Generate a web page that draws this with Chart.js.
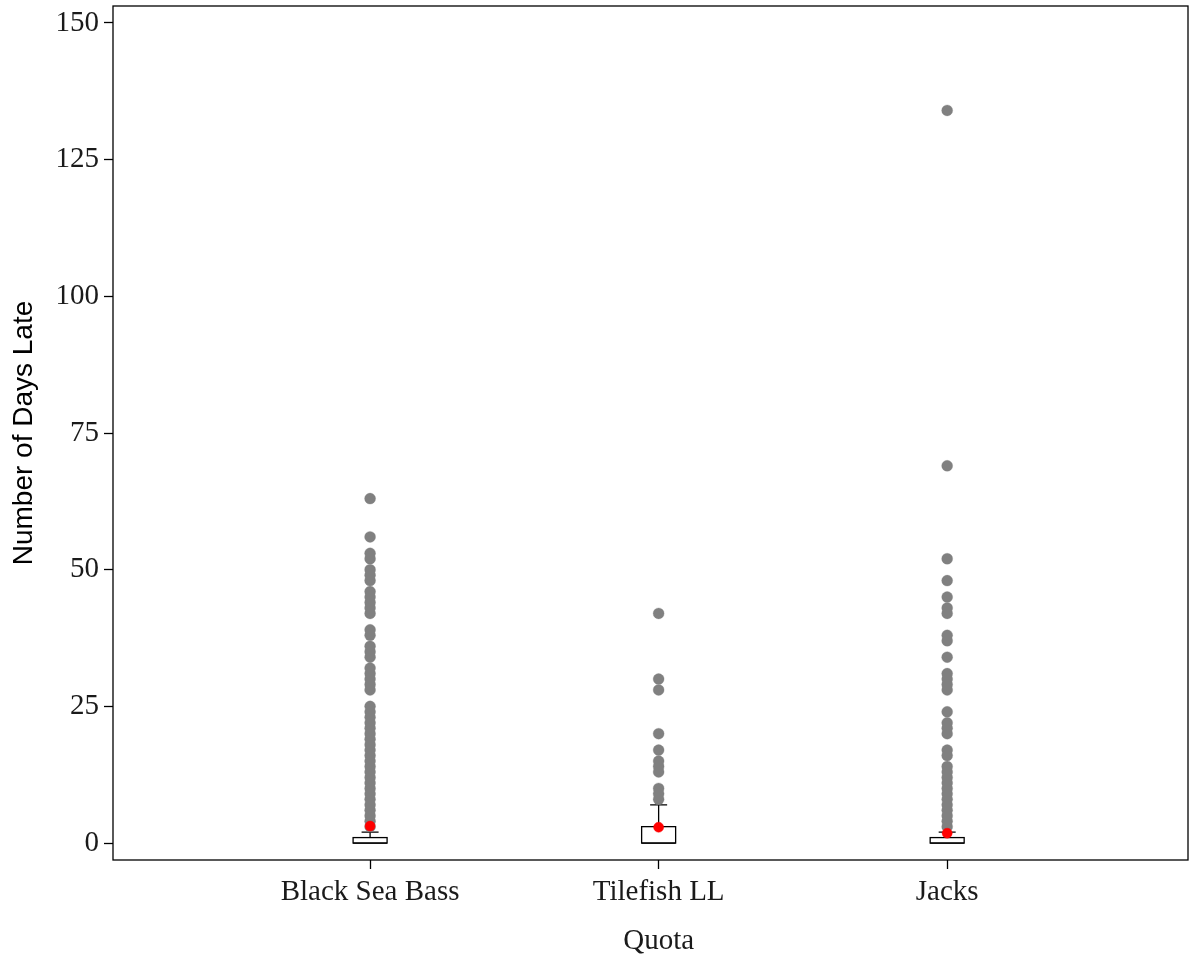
<!DOCTYPE html>
<html>
<head>
<meta charset="utf-8">
<script src="https://cdn.jsdelivr.net/npm/chart.js@4.4.1/dist/chart.umd.min.js"></script>
<style>
  html, body { margin: 0; padding: 0; background: #ffffff; }
  #wrap { width: 1189px; height: 959px; }
</style>
</head>
<body>
<div id="wrap"><canvas id="c" width="1189" height="959"></canvas></div>
<script>
// Quota categories (placed at x = 1, 2, 3)
const categories = ['Black Sea Bass', 'Tilefish LL', 'Jacks'];
const xTitle = 'Quota';
const yTitle = 'Number of Days Late';

// Box summary statistics per quota (days late)
const q1Values = [0, 0, 0];
const medianValues = [0, 0, 0];
const q3Values = [1, 3, 1];
const whiskerHigh = [2, 7, 2];
const meanValues = [3.1, 2.9, 1.8];

// Outlying observations per quota
const blackSeaBassOutliers = [63, 56, 53, 52, 50, 49, 48, 46, 45, 44, 43, 42, 39, 38, 36, 35, 34,
  32, 31, 30, 29, 28, 25, 24, 23, 22, 21, 20, 19, 18, 17, 16, 15, 14, 13, 12, 11, 10, 9, 8, 7, 6, 5, 4, 3];
const tilefishOutliers = [42, 30, 28, 20, 17, 15, 14, 13, 10, 9, 8];
const jacksOutliers = [134, 69, 52, 48, 45, 43, 42, 38, 37, 34, 31, 30, 29, 28, 24, 22, 21, 20, 17, 16,
  14, 13, 12, 11, 10, 9, 8, 7, 6, 5, 4, 3];

// Y axis ticks
const yTicks = [0, 25, 50, 75, 100, 125, 150];

const outlierSets = [blackSeaBassOutliers, tilefishOutliers, jacksOutliers];
const outlierPoints = [];
outlierSets.forEach((set, i) => set.forEach(v => outlierPoints.push({ x: i + 1, y: v })));
const meanPoints = meanValues.map((v, i) => ({ x: i + 1, y: v }));

const serif = "'Liberation Serif', 'DejaVu Serif', serif";
const sans = "'Liberation Sans', Arial, sans-serif";

// Boxes and whiskers drawn through the chart's scales
const boxPlugin = {
  id: 'boxes',
  beforeDatasetsDraw(chart) {
    const { ctx } = chart;
    const xs = chart.scales.x, ys = chart.scales.y;
    const halfW = 17;
    ctx.save();
    ctx.strokeStyle = '#000000';
    ctx.lineWidth = 1.3;
    categories.forEach((c, i) => {
      const cx = xs.getPixelForValue(i + 1);
      const yQ1 = ys.getPixelForValue(q1Values[i]);
      const yQ3 = ys.getPixelForValue(q3Values[i]);
      const yMed = ys.getPixelForValue(medianValues[i]);
      const yW = ys.getPixelForValue(whiskerHigh[i]);
      // whisker
      ctx.beginPath();
      ctx.moveTo(cx, yQ3);
      ctx.lineTo(cx, yW);
      ctx.moveTo(cx - halfW / 2, yW);
      ctx.lineTo(cx + halfW / 2, yW);
      ctx.stroke();
      // box
      ctx.fillStyle = '#ffffff';
      ctx.fillRect(cx - halfW, yQ3, halfW * 2, yQ1 - yQ3);
      ctx.strokeRect(cx - halfW, yQ3, halfW * 2, yQ1 - yQ3);
      // median
      ctx.beginPath();
      ctx.moveTo(cx - halfW, yMed);
      ctx.lineTo(cx + halfW, yMed);
      ctx.stroke();
    });
    ctx.restore();
  },
  afterDraw(chart) {
    const { ctx, chartArea } = chart;
    const xs = chart.scales.x;
    const right = chart.width - 1;
    ctx.save();
    // panel frame, running to the right edge of the canvas
    ctx.strokeStyle = '#000000';
    ctx.lineWidth = 1.3;
    ctx.strokeRect(chartArea.left, chartArea.top, right - chartArea.left, chartArea.bottom - chartArea.top);
    // x axis title, centred under the middle group
    ctx.fillStyle = '#1a1a1a';
    ctx.font = "29px " + serif;
    ctx.textAlign = 'center';
    ctx.textBaseline = 'middle';
    ctx.fillText(xTitle, xs.getPixelForValue(2), 941);
    ctx.restore();
  }
};

new Chart(document.getElementById('c'), {
  type: 'scatter',
  data: {
    datasets: [
      {
        label: 'Mean',
        data: meanPoints,
        pointRadius: 5,
        pointBackgroundColor: '#ff0000',
        pointBorderColor: '#ff0000',
        pointBorderWidth: 0.5,
        order: 0
      },
      {
        label: 'Outliers',
        data: outlierPoints,
        pointRadius: 5.5,
        pointBackgroundColor: '#808080',
        pointBorderColor: '#808080',
        pointBorderWidth: 0.3,
        order: 1
      }
    ]
  },
  options: {
    responsive: false,
    animation: false,
    devicePixelRatio: 1,
    layout: { padding: { top: 6, right: 0, left: 0, bottom: 0 } },
    plugins: {
      legend: { display: false },
      tooltip: { enabled: false }
    },
    scales: {
      x: {
        type: 'linear',
        min: 0.109,
        max: 3.818,
        afterBuildTicks(scale) {
          scale.ticks = categories.map((c, i) => ({ value: i + 1 }));
        },
        afterFit(scale) {
          scale.height = 99;
          scale.paddingLeft = 0;
          scale.paddingRight = 0;
        },
        grid: {
          drawOnChartArea: false,
          drawTicks: true,
          tickLength: 9,
          color: '#000000',
          tickWidth: 1.3
        },
        border: { display: false },
        ticks: {
          autoSkip: false,
          maxRotation: 0,
          padding: 6,
          color: '#1a1a1a',
          font: { family: serif, size: 29 },
          callback: (v) => categories[Math.round(v) - 1]
        },
        title: { display: false }
      },
      y: {
        min: -3.1,
        max: 153.1,
        afterBuildTicks(scale) {
          scale.ticks = yTicks.map(v => ({ value: v }));
        },
        afterFit(scale) {
          scale.width = 113;
          scale.paddingTop = 0;
          scale.paddingBottom = 0;
        },
        grid: {
          drawOnChartArea: false,
          drawTicks: true,
          tickLength: 9,
          color: '#000000',
          tickWidth: 1.3
        },
        border: { display: false },
        ticks: {
          padding: 5,
          color: '#1a1a1a',
          font: { family: serif, size: 29 },
          callback: (v) => String(v)
        },
        title: {
          display: true,
          text: yTitle,
          color: '#000000',
          font: { family: sans, size: 28 },
          padding: { top: 7, bottom: 0 }
        }
      }
    }
  },
  plugins: [boxPlugin]
});
</script>
</body>
</html>
